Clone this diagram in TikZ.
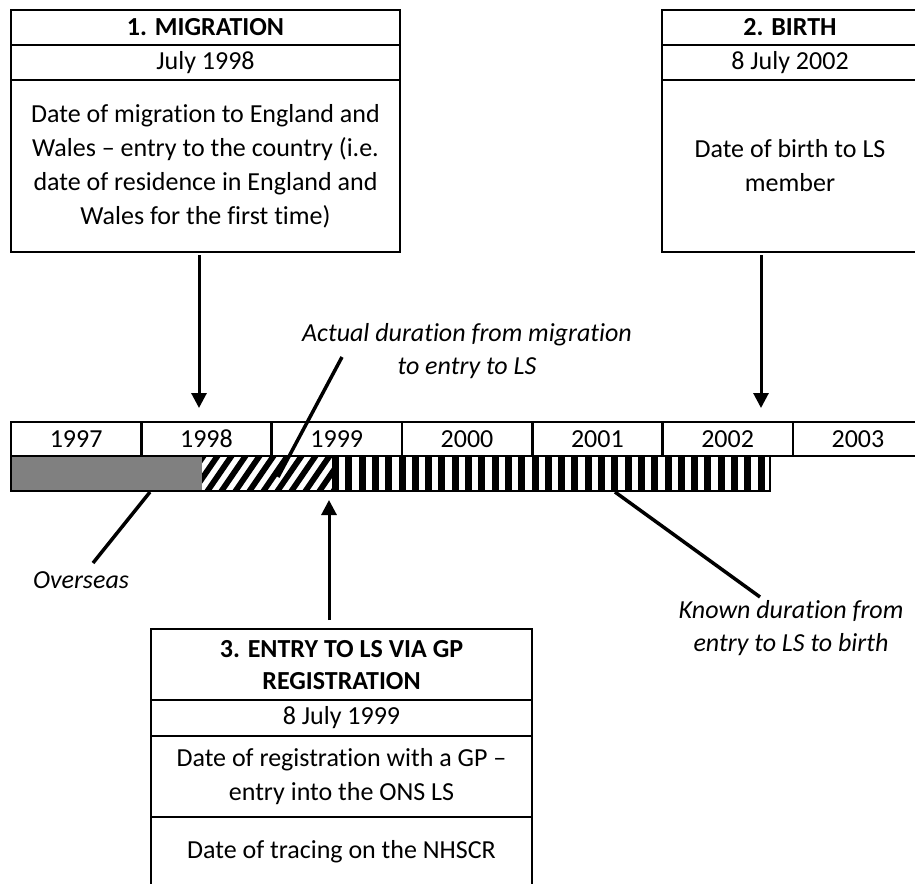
\documentclass[tikz,border=0pt]{standalone}
\usepackage{fontspec}
\setmainfont{Carlito}[Ligatures={TeX,NoCommon}]
\usetikzlibrary{arrows.meta}
\definecolor{barGray}{RGB}{128,128,128}
\begin{document}
\begin{tikzpicture}[x=1pt,y=-1pt,
  every node/.style={font=\fontsize{26}{34}\selectfont, inner sep=0pt, outer sep=0pt},
  frame/.style={draw=black, line width=2.6pt, anchor=north west},
  sep/.style={draw=black, line width=2.6pt},
  txt/.style={align=center},
  ttl/.style={align=center, font=\fontsize{26}{32}\selectfont\bfseries},
  lbl/.style={align=center, font=\fontsize{26}{33}\selectfont\itshape},
  arr/.style={line width=3pt, -{Triangle[length=15pt,width=15pt]}},
  lead/.style={line width=3.5pt},
]
\useasboundingbox (0,0) rectangle (915,883);
\clip (0,0) rectangle (915,883);

% ---- Box 1
\node[frame, minimum width=389pt, minimum height=242pt] (b1) at (11,10) {};
\draw[sep] (b1.west |- 0,45) -- (b1.east |- 0,45);
\draw[sep] (b1.west |- 0,80) -- (b1.east |- 0,80);
\node[ttl] (t1) at (205.5,27.5) {1. MIGRATION};
\node[txt] (d1) at (205.5,62.5) {July 1998};
\node[txt] (e1) at (205.5,166) {Date of migration to England and\\Wales – entry to the country (i.e.\\date of residence in England and\\Wales for the first time)};

% ---- Box 2
\node[frame, minimum width=256pt, minimum height=242pt] (b2) at (662,10) {};
\draw[sep] (b2.west |- 0,45) -- (b2.east |- 0,45);
\draw[sep] (b2.west |- 0,80) -- (b2.east |- 0,80);
\node[ttl] (t2) at (790,27.5) {2. BIRTH};
\node[txt] (d2) at (790,62.5) {8 July 2002};
\node[txt] (e2) at (790,166) {Date of birth to LS\\member};

% ---- Timeline years
\foreach \yr [count=\i from 0] in {1997,1998,1999,2000,2001,2002,2003}
  \node[frame, minimum width=130.3pt, minimum height=34pt] (y\yr) at ({11+130.3*\i},422) {};
\foreach \yr in {1997,1998,1999,2000,2001,2002,2003}
  \node (l\yr) at (y\yr.center) {\yr};

% ---- Bar
\fill[barGray] (11,456) rectangle (202,491);
\begin{scope}
  \clip (202,456) rectangle (332,491);
  \foreach \k in {0,...,13}
    \fill[black] ({176+14*\k},491) -- ++(7,0) -- ++(24,-35) -- ++(-7,0) -- cycle;
\end{scope}
\foreach \k in {0,...,32}
  \fill[black] ({332+13.3*\k},456) rectangle ++(7,35);
\node[frame, minimum width=759pt, minimum height=35pt] (bar) at (11,456) {};

% ---- Box 3
\node[frame, minimum width=381pt, minimum height=280pt] (b3) at (151,629) {};
\draw[sep] (b3.west |- 0,700) -- (b3.east |- 0,700);
\draw[sep] (b3.west |- 0,736) -- (b3.east |- 0,736);
\draw[sep] (b3.west |- 0,817) -- (b3.east |- 0,817);
\node[ttl] (t3) at (341.5,665) {3. ENTRY TO LS VIA GP\\REGISTRATION};
\node[txt] (d3) at (341.5,718) {8 July 1999};
\node[txt] (e3) at (341.5,777) {Date of registration with a GP –\\entry into the ONS LS};
\node[txt] (f3) at (341.5,852) {Date of tracing on the NHSCR};

% ---- Arrows
\coordinate (a1s) at (199,255); \coordinate (a1e) at (199,408);
\coordinate (a2s) at (761,255); \coordinate (a2e) at (761,408);
\coordinate (a3s) at (329,620); \coordinate (a3e) at (329,500);
\draw[arr] (a1s) -- (a1e);
\draw[arr] (a2s) -- (a2e);
\draw[arr] (a3s) -- (a3e);

% ---- Labels
\node[lbl] (act) at (467,351) {Actual duration from migration\\to entry to LS};
\node[lbl] (ovs) at (81,580) {Overseas};
\node[lbl] (knw) at (791,628) {Known duration from\\entry to LS to birth};
\coordinate (actS) at (342,357); \coordinate (actE) at (278,477);
\coordinate (ovsS) at (93,563);  \coordinate (ovsE) at (150,492);
\coordinate (knwS) at (760,597); \coordinate (knwE) at (615,492);
\draw[lead] (actS) -- (actE);
\draw[lead] (ovsS) -- (ovsE);
\draw[lead] (knwS) -- (knwE);
\end{tikzpicture}
\end{document}
